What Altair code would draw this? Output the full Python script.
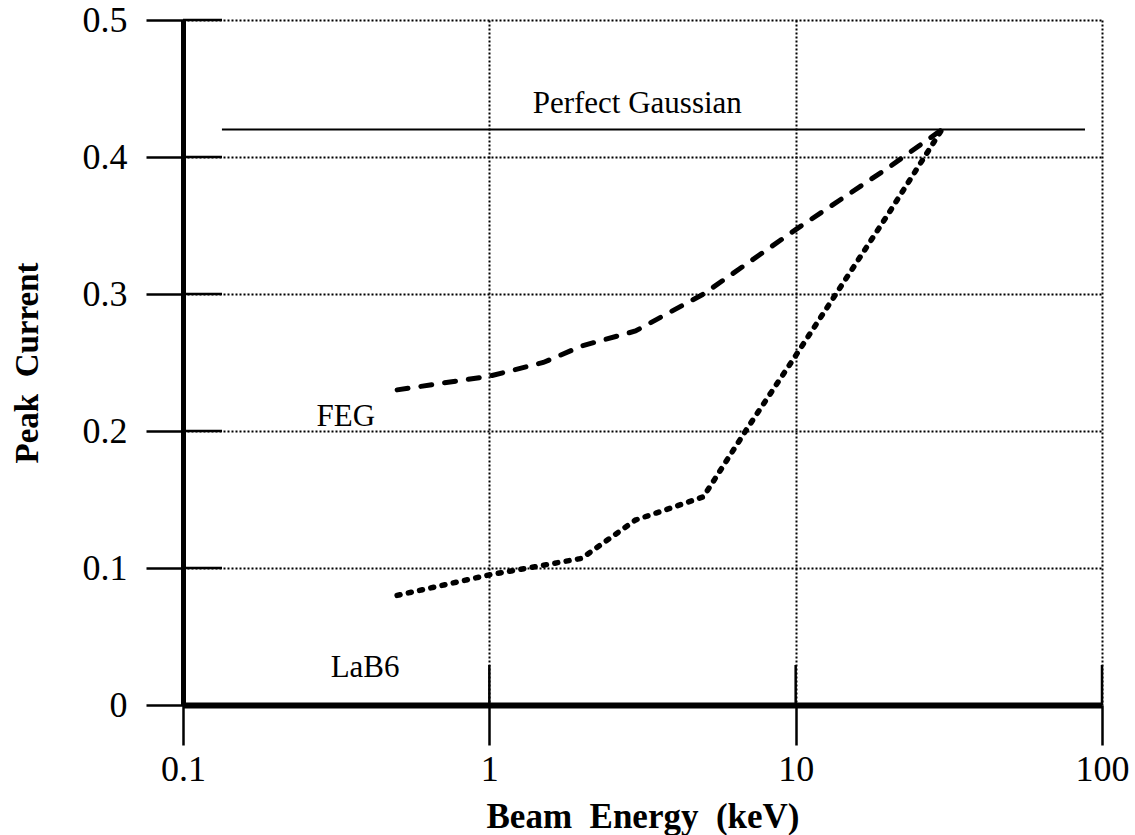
import altair as alt
import pandas as pd

# ---- data ----
energy_feg = [0.5, 1, 1.5, 2, 3, 5, 10, 20, 30]
current_feg = [0.23, 0.24, 0.25, 0.262, 0.273, 0.30, 0.347, 0.392, 0.42]
energy_lab6 = [0.5, 1, 2, 3, 5, 7, 10, 20, 30]
current_lab6 = [0.08, 0.095, 0.107, 0.135, 0.152, 0.203, 0.255, 0.358, 0.42]
gauss_x = [0.134, 88]
gauss_y = [0.42, 0.42]
label_text = ["Perfect Gaussian", "FEG", "LaB6"]
label_x = [3.04, 0.34, 0.393]
label_y = [0.439, 0.21, 0.027]
x_ticks = [0.1, 1, 10, 100]
y_ticks = [0, 0.1, 0.2, 0.3, 0.4, 0.5]

FONT = "Liberation Serif"

feg = pd.DataFrame({"E": energy_feg, "I": current_feg})
lab = pd.DataFrame({"E": energy_lab6, "I": current_lab6})
gauss = pd.DataFrame({"E": [gauss_x[0]], "E2": [gauss_x[1]], "I": [gauss_y[0]]})
labels = pd.DataFrame({"t": label_text, "E": label_x, "I": label_y})
xt = pd.DataFrame({"E": x_ticks[1:]})
yt = pd.DataFrame({"I": y_ticks[1:]})

xscale = alt.Scale(type="log", domain=[0.1, 100], nice=False)
yscale = alt.Scale(domain=[0, 0.5], nice=False, zero=False)

xaxis = alt.Axis(
    values=x_ticks, format="~g", title="Beam\u00a0\u00a0Energy\u00a0\u00a0(keV)",
    grid=True, gridDash=[2, 2], gridColor="black", gridWidth=2, gridOpacity=1,
    domainColor="black", domainWidth=6, tickColor="black", tickWidth=2.5, tickSize=40,
    labelFont=FONT, labelFontSize=36, labelColor="black", labelPadding=7,
    titleFont=FONT, titleFontSize=35, titleFontWeight="bold", titleColor="black", titlePadding=12,
    labelFlush=False, labelOverlap=False,
)
yaxis = alt.Axis(
    values=y_ticks, labelExpr="datum.value == 0 ? '0' : format(datum.value, '.1f')",
    title="Peak\u00a0\u00a0Current",
    grid=True, gridDash=[2, 2], gridColor="black", gridWidth=2, gridOpacity=1,
    domainColor="black", domainWidth=5, tickColor="black", tickWidth=2.5, tickSize=37,
    labelFont=FONT, labelFontSize=36, labelColor="black", labelPadding=19,
    titleFont=FONT, titleFontSize=33, titleFontWeight="bold", titleColor="black", titlePadding=38,
    labelFlush=False, labelOverlap=False,
)

base_x = alt.X("E:Q", scale=xscale, axis=xaxis)
base_y = alt.Y("I:Q", scale=yscale, axis=yaxis)

gauss_line = alt.Chart(gauss).mark_rule(color="black", strokeWidth=2).encode(
    x=base_x, x2="E2:Q", y=base_y
)

feg_line = alt.Chart(feg).mark_line(
    color="black", strokeWidth=5, strokeDash=[11, 13], strokeCap="round"
).encode(x="E:Q", y="I:Q")

lab_line = alt.Chart(lab).mark_line(
    color="black", strokeWidth=5.5, strokeDash=[3, 8.5], strokeCap="round"
).encode(x="E:Q", y="I:Q")

text = alt.Chart(labels).mark_text(
    font=FONT, fontSize=31, color="black", align="center", baseline="middle"
).encode(x="E:Q", y="I:Q", text="t:N")

inner_y = alt.Chart(yt).mark_rule(color="black", strokeWidth=2.5).encode(
    x=alt.value(0), x2=alt.value(39), y="I:Q"
)
inner_x = alt.Chart(xt).mark_rule(color="black", strokeWidth=2.5).encode(
    x="E:Q", y=alt.value(645), y2=alt.value(685)
)

chart = alt.layer(
    gauss_line, inner_y, inner_x, feg_line, lab_line, text
).properties(
    width=919, height=685,
    autosize=alt.AutoSizeParams(type="none"),
    padding={"left": 183, "top": 20, "right": 33, "bottom": 130},
    background="white",
).configure_view(strokeWidth=0)

chart.save("out.html", embed_options={"renderer": "svg", "actions": False})
